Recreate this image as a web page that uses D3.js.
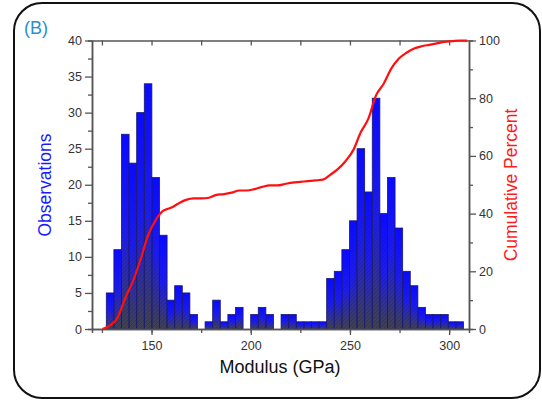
<!DOCTYPE html>
<html>
<head>
<meta charset="utf-8">
<script src="https://cdn.jsdelivr.net/npm/d3@7"></script>
<style>
  html, body { margin: 0; padding: 0; background: #fff; }
  svg { display: block; }
  text { font-family: "Liberation Sans", Arial, sans-serif; }
</style>
</head>
<body>
<svg id="chart" width="542" height="400"></svg>
<script>
// ---- data ----
const binStart = 127.2;   // GPa, left edge of first bin
const binWidth = 3.83;    // GPa
const counts = [5, 11, 27, 23, 30, 34, 21, 13, 4, 6, 5, 2, 0, 1, 4,
                1, 2, 3, 0, 2, 3, 2, 0, 2, 2, 1, 1, 1, 1,
                7, 8, 11, 15, 25, 19, 32, 16, 21, 14, 8, 6, 3, 2, 2, 2, 1, 1];
// cumulative percent at bin centres (leading and trailing points included)
const cumPercent = [0, 1.25, 4, 10.75, 16.5, 24, 32.5, 37.75, 41, 42, 43.5, 44.75, 45.25, 45.25, 45.5, 46.5,
                    46.75, 47.25, 48, 48, 48.5, 49.25, 49.75, 49.75, 50.25, 50.75, 51, 51.25, 51.5, 51.75,
                    53.5, 55.5, 58.25, 62, 68.25, 73, 81, 85, 90.25, 93.75, 95.75, 97.25, 98, 98.5, 99, 99.5, 99.75, 100, 100];
const xTicks = [150, 200, 250, 300];
const yTicks = [0, 5, 10, 15, 20, 25, 30, 35, 40];
const y2Ticks = [0, 20, 40, 60, 80, 100];

// ---- layout ----
const svg = d3.select("#chart");
const L = 92, R = 469, T = 40.5, B = 329;
const x = d3.scaleLinear().domain([120, 310]).range([L, R]);
const y = d3.scaleLinear().domain([0, 40]).range([B, T]);
const y2 = d3.scaleLinear().domain([0, 100]).range([B, T]);

// frame
svg.append("rect").attr("x", 14).attr("y", 3).attr("width", 526).attr("height", 395)
  .attr("rx", 28).attr("ry", 28).attr("fill", "none").attr("stroke", "#111").attr("stroke-width", 2);

svg.append("text").attr("x", 24).attr("y", 34).attr("font-size", 18).attr("fill", "#2a8fd0").text("(B)");

// defs
const defs = svg.append("defs");
const grad = defs.append("linearGradient").attr("id", "barGrad")
  .attr("x1", 0).attr("y1", 0).attr("x2", 0).attr("y2", 1);
grad.append("stop").attr("offset", "0").attr("stop-color", "#0a0aff");
grad.append("stop").attr("offset", "0.5").attr("stop-color", "#1c1cea");
grad.append("stop").attr("offset", "1").attr("stop-color", "#42424c");
const pat = defs.append("pattern").attr("id", "hatch").attr("patternUnits", "userSpaceOnUse")
  .attr("width", 4).attr("height", 4);
pat.append("path").attr("d", "M-1,1 l2,-2 M0,4 l4,-4 M3,5 l2,-2")
  .attr("stroke", "#202060").attr("stroke-width", 0.8).attr("stroke-opacity", 0.5);

// bars
const bars = counts.map((c, i) => ({ x0: binStart + i * binWidth, x1: binStart + (i + 1) * binWidth, c }))
  .filter(d => d.c > 0);
const g = svg.append("g");
g.selectAll("rect.bar").data(bars).join("rect").attr("class", "bar")
  .attr("x", d => x(d.x0)).attr("width", d => x(d.x1) - x(d.x0))
  .attr("y", d => y(d.c)).attr("height", d => y(0) - y(d.c))
  .attr("fill", "url(#barGrad)");
g.selectAll("rect.hatch").data(bars).join("rect").attr("class", "hatch")
  .attr("x", d => x(d.x0)).attr("width", d => x(d.x1) - x(d.x0))
  .attr("y", d => y(d.c)).attr("height", d => y(0) - y(d.c))
  .attr("fill", "url(#hatch)").attr("stroke", "#1a1a70").attr("stroke-width", 0.8);

// axes
const axisColor = "#555";
function styleAxis(sel) {
  sel.selectAll("path.domain").attr("stroke", axisColor).attr("stroke-width", 1.5);
  sel.selectAll(".tick line").attr("stroke", axisColor).attr("stroke-width", 1.3);
  sel.selectAll(".tick text").attr("fill", "#333").attr("font-size", 12.5)
    .attr("font-family", "Liberation Sans, Arial, sans-serif");
}
const xMinor = d3.range(125, 310, 25);
const yMinor = d3.range(2.5, 40, 5);
const y2Minor = d3.range(10, 100, 20);

// minor ticks
svg.append("g").attr("transform", `translate(0,${B})`)
  .call(d3.axisBottom(x).tickValues(xMinor).tickSize(4).tickFormat("")).call(styleAxis);
svg.append("g").attr("transform", `translate(${L},0)`)
  .call(d3.axisLeft(y).tickValues(yMinor).tickSize(4).tickFormat("")).call(styleAxis);
svg.append("g").attr("transform", `translate(${R},0)`)
  .call(d3.axisRight(y2).tickValues(y2Minor).tickSize(4).tickFormat("")).call(styleAxis);
svg.append("g").attr("transform", `translate(0,${T})`)
  .call(d3.axisBottom(x).tickValues(d3.range(125, 310, 25)).tickSize(5).tickSizeOuter(0).tickFormat("")).call(styleAxis);

// major ticks
svg.append("g").attr("transform", `translate(0,${B})`)
  .call(d3.axisBottom(x).tickValues(xTicks).tickSize(6).tickSizeOuter(0).tickPadding(6)).call(styleAxis);
svg.append("g").attr("transform", `translate(${L},0)`)
  .call(d3.axisLeft(y).tickValues(yTicks).tickSize(7).tickSizeOuter(0).tickPadding(3)).call(styleAxis);
svg.append("g").attr("transform", `translate(${R},0)`)
  .call(d3.axisRight(y2).tickValues(y2Ticks).tickSize(7).tickSizeOuter(0).tickPadding(3)).call(styleAxis);

// cumulative line
const line = d3.line()
  .x((d, i) => x(binStart + (i - 0.5) * binWidth))
  .y(d => y2(d))
  .curve(d3.curveMonotoneX);
svg.append("path").datum(cumPercent).attr("d", line)
  .attr("fill", "none").attr("stroke", "#ff0f0f").attr("stroke-width", 2.2);

// axis titles
svg.append("text").attr("x", 280).attr("y", 373).attr("text-anchor", "middle")
  .attr("font-size", 18).attr("fill", "#111").text("Modulus (GPa)");
svg.append("text").attr("transform", "translate(51,185) rotate(-90)").attr("text-anchor", "middle")
  .attr("font-size", 17.5).attr("fill", "#1a1aff").text("Observations");
svg.append("text").attr("transform", "translate(517,185) rotate(-90)").attr("text-anchor", "middle")
  .attr("font-size", 17.5).attr("fill", "#ff1a1a").text("Cumulative Percent");
</script>
</body>
</html>
